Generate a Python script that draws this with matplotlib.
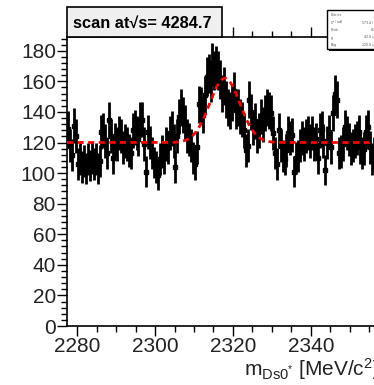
import numpy as np
import matplotlib
matplotlib.use("Agg")
import matplotlib.pyplot as plt
from matplotlib.patches import Rectangle

plt.rcParams['font.family'] = ['Liberation Sans', 'DejaVu Sans']
plt.rcParams['mathtext.fontset'] = 'custom'
plt.rcParams['mathtext.rm'] = 'Liberation Sans'
plt.rcParams['mathtext.it'] = 'Liberation Sans:italic'

# histogram: 0.5 MeV bins starting at 2277.5
bin_start = 2277.5
bin_width = 0.5
counts = [
    129, 118, 112, 131, 124, 106, 109, 104, 108, 103,
    109, 105, 110, 106, 109, 103, 108, 127, 128, 121,
    113, 135, 124, 110, 122, 119, 126, 124, 117, 121,
    119, 115, 113, 128, 130, 126, 122, 135, 135, 119,
    101, 127, 120, 113, 107, 104, 99, 109, 114, 110,
    119, 117, 126, 129, 121, 104, 124, 137, 143, 138,
    133, 124, 122, 118, 110, 106, 117, 145, 144, 138,
    151, 163, 165, 159, 172, 167, 170, 167, 161, 152,
    157, 148, 143, 141, 146, 154, 141, 143, 137, 135,
    128, 115, 118, 148, 140, 130, 134, 124, 128, 137,
    132, 139, 143, 141, 139, 126, 113, 106, 128, 118,
    111, 109, 115, 126, 123, 125, 101, 110, 111, 118,
    123, 119, 124, 126, 121, 126, 119, 122, 110, 128,
    129, 121, 102, 120, 127, 117, 139, 152, 148, 113,
    114, 119, 130, 126, 122, 116, 118, 121, 123, 127,
    117, 113, 116, 127, 130, 117, 109, 113,
]

# fit: gaussian on a flat background
fit_bkg = 120.0
fit_amp = 42.0
fit_mean = 2317.9
fit_sigma = 3.9

title_text = "scan at\u221as= 4284.7"
stat_lines = [("Entries", "157"), ("\u03c7\u00b2 / ndf", "173.4 / 154"),
              ("Prob", "0.135"), ("g", "42.0 \u00b1 6.1"), ("Bkg", "120.0 \u00b1 1.0")]

x_lo, x_hi = 2277.4, 2357.5
W, H = 374, 385
fig = plt.figure(figsize=(W / 100, H / 100), dpi=100)
ax = fig.add_axes([67 / W, 1 - 326 / H, (379 - 67) / W, (326 - 37) / H])

centers = bin_start + bin_width * (np.arange(len(counts)) + 0.5)
counts = np.array(counts, dtype=float)
ax.errorbar(centers, counts, yerr=np.sqrt(counts), xerr=bin_width / 2,
            fmt='s', ms=2.2, color='black', elinewidth=2.0, capsize=0, zorder=3)

xf = np.linspace(x_lo, x_hi, 600)
yf = fit_bkg + fit_amp * np.exp(-0.5 * ((xf - fit_mean) / fit_sigma) ** 2)
ax.plot(xf, yf, color='red', lw=2.0, dashes=(2.2, 1.6), zorder=4)

ax.set_xlim(x_lo, x_hi)
ax.set_ylim(0, 189)
ax.set_xticks([2280, 2300, 2320, 2340])
ax.set_xticks(np.arange(2280, 2358, 5), minor=True)
ax.set_yticks(np.arange(0, 181, 20))
ax.set_yticks(np.arange(0, 189, 4), minor=True)
ax.tick_params(which='both', direction='out', top=True, right=True, color='black', width=1.0)
ax.tick_params(which='major', length=7, labelsize=15, labelcolor='#222222')
ax.tick_params(which='minor', length=4)
ax.tick_params(axis='x', pad=1)
ax.tick_params(axis='y', pad=1)
for s in ax.spines.values():
    s.set_linewidth(1.2)

fig.text(244 / W, 1 - 376 / H, r"m$_{\mathrm{Ds0^{*}}}$ [MeV/c$^{2}$]",
         fontsize=15, color='#222222', ha='left', va='baseline')

# title box
fig.patches.append(Rectangle((67 / W, 1 - 37 / H), 155 / W, 30 / H, transform=fig.transFigure,
                             facecolor='#efefef', edgecolor='black', lw=1.2, zorder=5))
fig.text(142 / W, 1 - 23 / H, title_text, fontsize=11.8, fontweight='bold',
         ha='center', va='center', zorder=6)

# stat box with shadow
fig.patches.append(Rectangle((329 / W, 1 - 51 / H), 60 / W, 39 / H, transform=fig.transFigure,
                             facecolor='black', edgecolor='none', zorder=5))
fig.patches.append(Rectangle((327 / W, 1 - 49 / H), 60 / W, 39 / H, transform=fig.transFigure,
                             facecolor='white', edgecolor='black', lw=1.0, zorder=6))
for k, (name, val) in enumerate(stat_lines):
    yy = 1 - (15 + 7.5 * k) / H
    fig.text(331 / W, yy, name, fontsize=2.6, color='#555555', va='center', zorder=7)
    fig.text(380 / W, yy, val, fontsize=2.6, color='#555555', va='center', ha='right', zorder=7)

fig.savefig("out.png", dpi=100)
